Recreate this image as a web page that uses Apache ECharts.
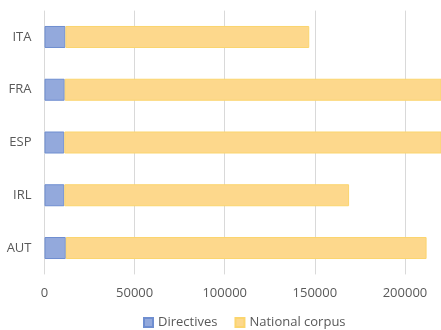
<!DOCTYPE html>
<html><head><meta charset="utf-8">
<script src="https://cdn.jsdelivr.net/npm/echarts@6/dist/echarts.min.js"></script>
<style>html,body{margin:0;padding:0;background:#fff}#c{width:441px;height:330px}</style>
</head><body><div id="c"></div>
<script>
var categories = ['AUT', 'IRL', 'ESP', 'FRA', 'ITA'];
var directives = [11800, 11000, 11000, 11200, 11600];
var nationalCorpus = [200200, 158000, 235000, 235000, 135300];
var xTicks = [0, 50000, 100000, 150000, 200000];

var chart = echarts.init(document.getElementById('c'));
chart.setOption({
  animation: false,
  textStyle: {fontFamily: 'Open Sans, sans-serif'},
  grid: {left: 44.5, right: 0, top: 10.6, bottom: 55.6, containLabel: false},
  legend: {
    top: 311, left: 138, itemWidth: 9, itemHeight: 9, itemGap: 17,
    icon: 'rect',
    textStyle: {color: '#595959', fontSize: 13, fontFamily: 'Open Sans, sans-serif'},
    data: ['Directives', 'National corpus']
  },
  xAxis: {
    type: 'value', min: 0, max: 220000, interval: 50000,
    axisLine: {show: false}, axisTick: {show: false},
    splitLine: {lineStyle: {color: '#d9d9d9'}},
    axisLabel: {color: '#595959', fontSize: 13, margin: 12, showMaxLabel: false,
      formatter: function (v) { return xTicks.indexOf(v) >= 0 ? String(v) : ''; }}
  },
  yAxis: {
    type: 'category', data: categories,
    axisLine: {show: false}, axisTick: {show: false},
    axisLabel: {color: '#595959', fontSize: 13, margin: 13}
  },
  series: [
    {name: 'Directives', type: 'bar', stack: 't', data: directives, barWidth: 22,
      itemStyle: {color: '#93a9dc', borderColor: '#6f8ed0', borderWidth: 1}},
    {name: 'National corpus', type: 'bar', stack: 't', data: nationalCorpus, barWidth: 22,
      itemStyle: {color: '#fdd88c', borderColor: '#fbd56e', borderWidth: 1}}
  ]
});
</script></body></html>
